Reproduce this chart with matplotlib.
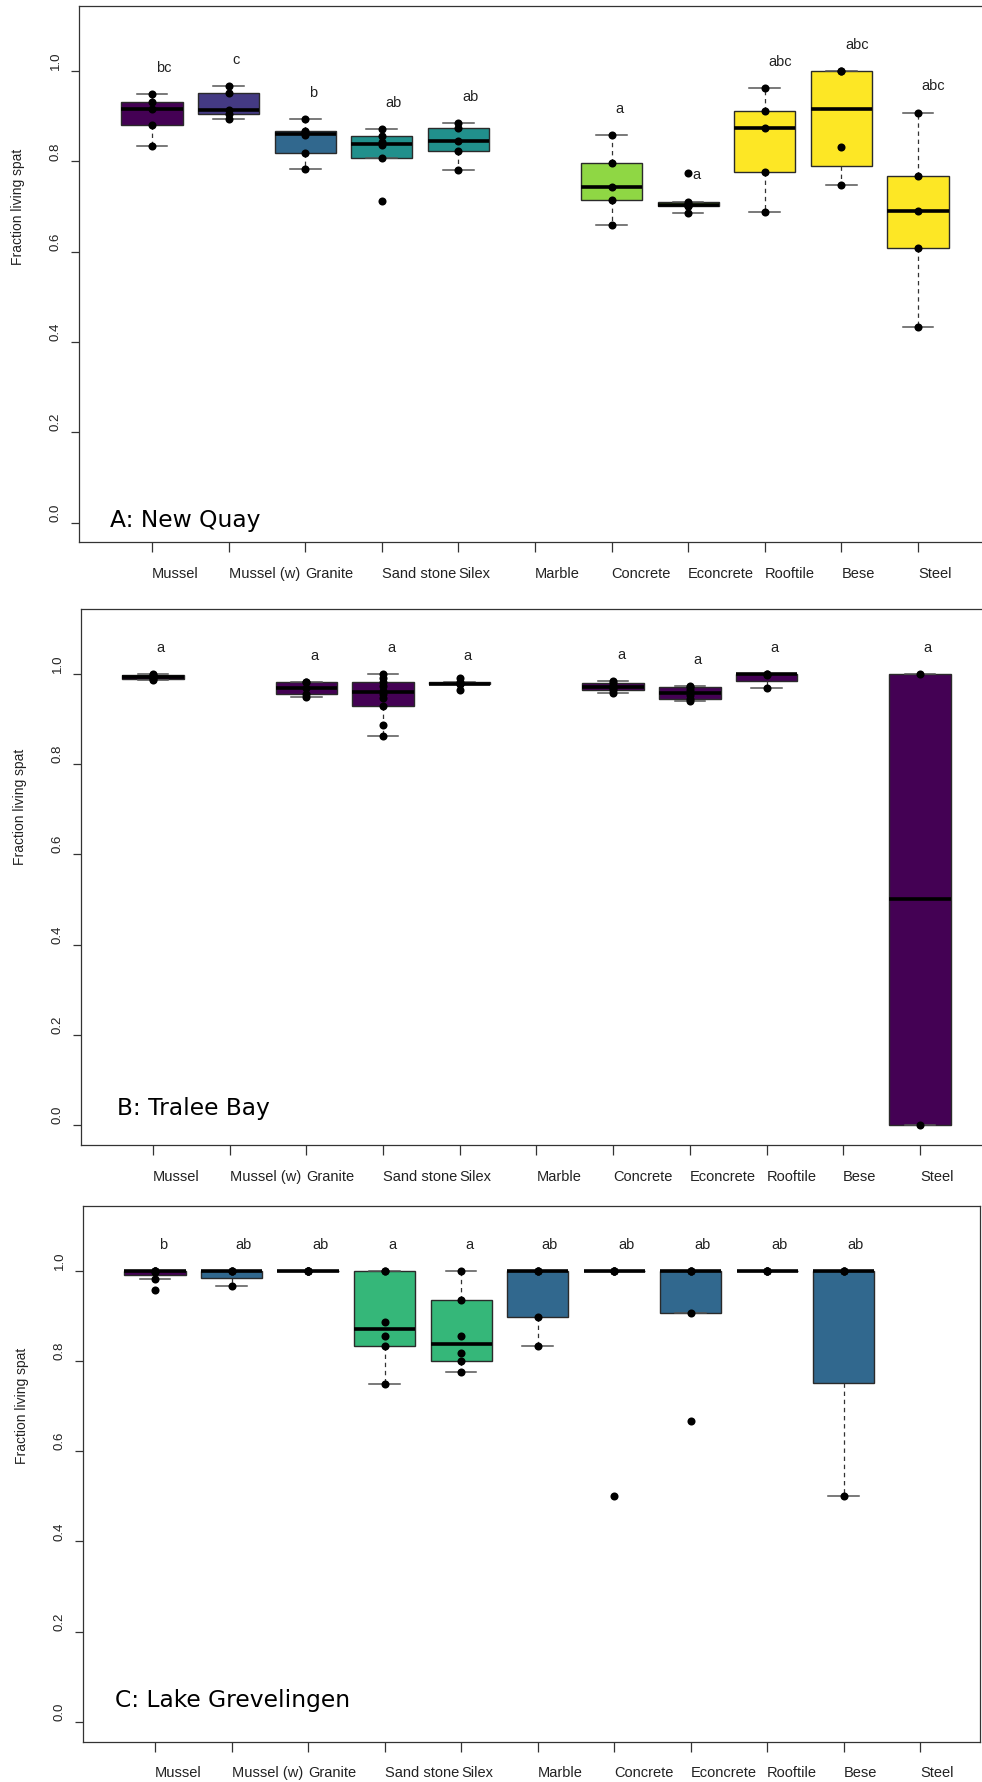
import math
import matplotlib
matplotlib.use("Agg")
import matplotlib.pyplot as plt
from matplotlib.transforms import ScaledTranslation

# ---------------------------------------------------------------- data
categories = ["Mussel", "Mussel (w)", "Granite", "Sand stone", "Silex", "Marble",
              "Concrete", "Econcrete", "Rooftile", "Bese", "Steel"]

# A: New Quay - fraction of living spat per substrate
new_quay_values = [
    [0.835, 0.881, 0.915, 0.932, 0.949],
    [0.893, 0.905, 0.913, 0.951, 0.966],
    [0.783, 0.818, 0.858, 0.864, 0.867, 0.893],
    [0.713, 0.808, 0.836, 0.842, 0.856, 0.872],
    [0.781, 0.822, 0.846, 0.873, 0.884],
    [],
    [0.660, 0.715, 0.743, 0.797, 0.858],
    [0.686, 0.700, 0.702, 0.706, 0.711, 0.775],
    [0.688, 0.777, 0.873, 0.912, 0.962],
    [0.747, 0.832, 1.000, 1.000],
    [0.432, 0.608, 0.691, 0.768, 0.908],
]
new_quay_letters = ["bc", "c", "b", "ab", "ab", "", "a", "a", "abc", "abc", "abc"]
new_quay_colors = ["#440154", "#443A83", "#31688E", "#21908C", "#21908C", "#21908C",
                   "#8FD744", "#8FD744", "#FDE725", "#FDE725", "#FDE725"]

# B: Tralee Bay
tralee_values = [
    [0.985, 0.988, 0.993, 0.997, 1.000],
    [],
    [0.949, 0.954, 0.969, 0.981, 0.982],
    [0.862, 0.886, 0.928, 0.945, 0.955, 0.962, 0.972, 0.981, 0.990, 1.000],
    [0.963, 0.976, 0.978, 0.981, 0.990],
    [],
    [0.958, 0.963, 0.969, 0.973, 0.979, 0.984],
    [0.939, 0.943, 0.952, 0.964, 0.970, 0.972],
    [0.969, 0.997, 1.000, 1.000],
    [],
    [0.000, 1.000],
]
tralee_letters = ["a", "", "a", "a", "a", "", "a", "a", "a", "", "a"]
tralee_colors = ["#440154"] * 11

# C: Lake Grevelingen
grevelingen_values = [
    [0.957, 0.982, 0.998, 1.000, 1.000, 1.000, 1.000],
    [0.967, 1.000, 1.000, 1.000],
    [1.000, 1.000, 1.000, 1.000, 1.000],
    [0.748, 0.832, 0.856, 0.887, 1.000, 1.000],
    [0.776, 0.799, 0.817, 0.856, 0.936, 1.000],
    [0.833, 0.898, 1.000, 1.000, 1.000],
    [0.500, 1.000, 1.000, 1.000, 1.000],
    [0.667, 0.907, 1.000, 1.000, 1.000],
    [1.000, 1.000, 1.000, 1.000],
    [0.500, 1.000, 1.000, 1.000],
    [],
]
grevelingen_letters = ["b", "ab", "ab", "a", "a", "ab", "ab", "ab", "ab", "ab", ""]
grevelingen_colors = ["#440154", "#31688E", "#31688E", "#35B779", "#35B779", "#31688E",
                      "#31688E", "#31688E", "#31688E", "#31688E", "#31688E"]

panel_titles = ["A: New Quay", "B: Tralee Bay", "C: Lake Grevelingen"]
y_ticks = [0.0, 0.2, 0.4, 0.6, 0.8, 1.0]

# ---------------------------------------------------------------- helpers
W, H, DPI = 982, 1783, 100
fig = plt.figure(figsize=(W / DPI, H / DPI), dpi=DPI)
fig.patch.set_facecolor("white")

SANS = "Liberation Sans"
AXC = "#333333"


def fivenum_stats(vals):
    """Tukey hinges and 1.5*IQR whiskers, as R's boxplot.stats."""
    x = sorted(vals)
    n = len(x)
    n4 = math.floor((n + 3) / 2) / 2
    d = [1, n4, (n + 1) / 2, n + 1 - n4, n]
    fv = [0.5 * (x[math.floor(di) - 1] + x[math.ceil(di) - 1]) for di in d]
    iqr = fv[3] - fv[1]
    lo, hi = fv[1] - 1.5 * iqr, fv[3] + 1.5 * iqr
    inside = [v for v in x if lo - 1e-12 <= v <= hi + 1e-12]
    return dict(med=fv[2], q1=fv[1], q3=fv[3],
                whislo=min(inside), whishi=max(inside), fliers=[])


def axes_px(left, top, right, bottom):
    return fig.add_axes([left / W, 1 - bottom / H, (right - left) / W, (bottom - top) / H])


def draw_panel(geom, xlim, values, letters, colors, title, title_xy, ylabel_px):
    ax = axes_px(*geom)
    ax.set_xlim(*xlim)
    ax.set_ylim(-0.044, 1.144)

    for i, vals in enumerate(values):
        pos = i + 1
        if not vals:
            continue
        st = fivenum_stats(vals)
        ax.bxp([st], positions=[pos], widths=0.8, patch_artist=True,
               showfliers=False,
               boxprops=dict(facecolor=colors[i], edgecolor="#2a2a2a", linewidth=1.0),
               medianprops=dict(color="black", linewidth=2.6, solid_capstyle="butt"),
               whiskerprops=dict(color="#333333", linewidth=0.9, linestyle=(0, (3.5, 3))),
               capprops=dict(color="#555555", linewidth=1.1))
        ax.plot([pos] * len(vals), vals, "o", color="black", markersize=5.8,
                markeredgewidth=0, zorder=5)
        if letters[i]:
            ax.text(pos + 0.05, st["whishi"] + 0.06, letters[i], ha="left", va="center",
                    fontsize=10.5, family=SANS, color="#222222")

    # axes frame and ticks
    for side in ["left", "top", "bottom", "right"]:
        ax.spines[side].set_color(AXC)
        ax.spines[side].set_linewidth(0.9)

    ax.set_xticks(range(1, len(categories) + 1))
    ax.set_xticklabels(categories, ha="left", fontsize=10.5, family=SANS, color="#222222")
    ax.tick_params(axis="x", length=7, width=0.9, color=AXC, pad=10)

    ax.set_yticks(y_ticks)
    ax.set_yticklabels([f"{t:.1f}" for t in y_ticks], rotation=90, va="center",
                       ha="right", fontsize=9.5, family=SANS, color="#222222")
    ax.tick_params(axis="y", length=5.8, width=0.9, color=AXC, pad=6.5)
    shift = ScaledTranslation(0, 0.11, fig.dpi_scale_trans)
    for lab in ax.get_yticklabels():
        lab.set_transform(lab.get_transform() + shift)

    ax.text(title_xy[0], title_xy[1], title, ha="left", va="baseline",
            fontsize=16.8, family="DejaVu Sans", color="black")

    fig.text(ylabel_px[0] / W, 1 - ylabel_px[1] / H, "Fraction living spat",
             rotation=90, ha="center", va="center", fontsize=10, family=SANS,
             color="#222222")
    return ax


draw_panel((79, 7, 990.5, 543.4), (0.047, 11.947), new_quay_values, new_quay_letters,
           new_quay_colors, panel_titles[0], (0.452, -0.008), (18, 207))
draw_panel((81, 609.6, 992, 1146), (0.061, 11.94), tralee_values, tralee_letters,
           tralee_colors, panel_titles[1], (0.53, 0.024), (20, 807))
draw_panel((83, 1206.7, 980, 1742.8), (0.059, 11.78), grevelingen_values, grevelingen_letters,
           grevelingen_colors, panel_titles[2], (0.477, 0.035), (22, 1406))

fig.savefig("out.png", dpi=DPI, facecolor="white")
